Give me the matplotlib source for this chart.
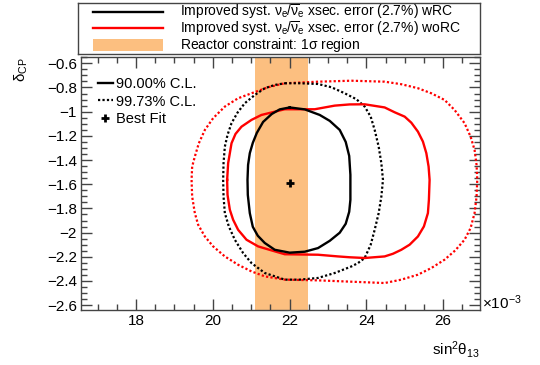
import numpy as np
import matplotlib
matplotlib.use("Agg")
from matplotlib import pyplot as plt
from matplotlib.lines import Line2D
from matplotlib.patches import Rectangle
from matplotlib.ticker import MultipleLocator, FuncFormatter

plt.rcParams['font.family'] = ['Liberation Sans', 'DejaVu Sans']
plt.rcParams['mathtext.fontset'] = 'custom'
plt.rcParams['mathtext.rm'] = 'Liberation Sans'
plt.rcParams['mathtext.it'] = 'Liberation Sans'
plt.rcParams['mathtext.sf'] = 'Liberation Sans'
plt.rcParams['mathtext.bf'] = 'Liberation Sans:bold'

# Контуры: x = sin^2(theta13) [x1e-3], y = delta_CP
wrc90_x = [22.005, 22.395, 22.785, 23.046, 23.306, 23.462, 23.553, 23.584, 23.584, 23.553,
           23.462, 23.306, 23.046, 22.741, 22.395, 22.005, 21.615, 21.355, 21.173, 21.043,
           20.965, 20.913, 20.905, 20.920, 20.965, 21.043, 21.147, 21.311, 21.537, 21.745,
           22.005]
wrc90_y = [-0.965, -0.981, -1.027, -1.076, -1.151, -1.250, -1.366, -1.522, -1.729, -1.828,
           -1.927, -2.001, -2.068, -2.128, -2.158, -2.166, -2.142, -2.086, -2.026, -1.952,
           -1.839, -1.688, -1.564, -1.440, -1.343, -1.258, -1.176, -1.085, -1.019, -0.981,
           -0.965]

worc90_x = [20.375, 20.401, 20.489, 20.593, 20.749, 21.009, 21.269, 21.875, 22.655, 22.915,
            23.176, 23.566, 23.956, 24.476, 24.736, 24.997, 25.170, 25.342, 25.472, 25.561,
            25.620, 25.646, 25.628, 25.602, 25.498, 25.342, 25.126, 24.910, 24.692, 24.476,
            23.956, 23.566, 23.262, 22.741, 21.875, 21.529, 21.181, 20.879, 20.661, 20.531,
            20.445, 20.385, 20.375]
worc90_y = [-1.564, -1.426, -1.261, -1.184, -1.124, -1.068, -1.027, -0.980, -0.980, -0.965,
            -0.950, -0.940, -0.939, -0.965, -1.005, -1.041, -1.091, -1.165, -1.247, -1.343,
            -1.454, -1.564, -1.729, -1.839, -1.949, -2.032, -2.100, -2.142, -2.175, -2.197,
            -2.210, -2.204, -2.197, -2.183, -2.179, -2.147, -2.114, -2.059, -1.977, -1.894,
            -1.811, -1.688, -1.564]

wrc99_x = [21.875, 22.265, 22.741, 23.090, 23.436, 23.740, 23.956, 24.112, 24.216, 24.320,
           24.390, 24.432, 24.390, 24.320, 24.216, 24.112, 23.956, 23.782, 23.610, 23.176,
           22.741, 22.265, 21.875, 21.355, 21.009, 20.791, 20.575, 20.419, 20.315, 20.281,
           20.271, 20.281, 20.315, 20.385, 20.489, 20.645, 20.835, 21.095, 21.355, 21.615,
           21.875]
wrc99_y = [-0.765, -0.765, -0.771, -0.798, -0.848, -0.897, -0.958, -1.041, -1.151, -1.289,
           -1.426, -1.564, -1.702, -1.839, -1.977, -2.101, -2.210, -2.252, -2.280, -2.334,
           -2.375, -2.389, -2.389, -2.334, -2.252, -2.169, -2.059, -1.949, -1.839, -1.702,
           -1.564, -1.426, -1.289, -1.192, -1.095, -1.008, -0.930, -0.862, -0.806, -0.779,
           -0.765]

worc99_x = [21.875, 22.741, 23.610, 24.476, 24.910, 25.342, 25.691, 26.036, 26.297, 26.556,
            26.713, 26.817, 26.869, 26.887, 26.869, 26.817, 26.713, 26.556, 26.315, 26.036,
            25.691, 25.342, 24.910, 24.476, 23.610, 22.741, 21.875, 21.355, 21.009, 20.661,
            20.315, 20.010, 19.795, 19.620, 19.534, 19.464, 19.449, 19.464, 19.534, 19.638,
            19.795, 20.010, 20.315, 20.661, 21.009, 21.441, 21.875]
worc99_y = [-0.765, -0.752, -0.744, -0.752, -0.773, -0.806, -0.848, -0.903, -0.986, -1.095,
            -1.206, -1.316, -1.440, -1.564, -1.702, -1.839, -1.963, -2.059, -2.147, -2.224,
            -2.293, -2.348, -2.389, -2.417, -2.406, -2.395, -2.389, -2.362, -2.321, -2.266,
            -2.197, -2.114, -2.032, -1.935, -1.839, -1.702, -1.564, -1.454, -1.371, -1.261,
            -1.151, -1.054, -0.958, -0.889, -0.848, -0.798, -0.765]

best_fit = (22.01, -1.59)
reactor_band = (21.10, 22.47)

fig = plt.figure(figsize=(5.4, 3.65), dpi=100)
ax = fig.add_axes([0.15, 0.1507, 0.739, 0.6931])

dots = (0, (1, 1))
ax.plot(worc99_x, worc99_y, color='#ff0000', lw=1.6, ls=dots)
ax.plot(wrc99_x, wrc99_y, color='black', lw=1.6, ls=dots)
ax.plot(worc90_x, worc90_y, color='#ff0000', lw=1.7, solid_joinstyle='round')
ax.plot(wrc90_x, wrc90_y, color='black', lw=1.7, solid_joinstyle='round')
ax.axvspan(reactor_band[0], reactor_band[1], color='#fb8002', alpha=0.5, lw=0)
ax.plot([best_fit[0]], [best_fit[1]], marker='+', color='black', ms=6, mew=2, ls='none')

ax.set_xlim(16.57, 26.96)
ax.set_ylim(-2.64, -0.548)
ax.xaxis.set_major_locator(MultipleLocator(2))
ax.xaxis.set_minor_locator(MultipleLocator(0.5))
ax.yaxis.set_major_locator(MultipleLocator(0.2))
ax.yaxis.set_minor_locator(MultipleLocator(0.05))
fmt = FuncFormatter(lambda v, p: f"{v:g}".replace('-', '\u2212'))
ax.xaxis.set_major_formatter(fmt)
ax.yaxis.set_major_formatter(fmt)
ax.tick_params(which='both', direction='in', top=True, right=True, color='#444444', width=1)
ax.tick_params(which='major', length=8, labelsize=11, pad=3)
ax.tick_params(which='minor', length=4)
for s in ax.spines.values():
    s.set_color('#444444')
    s.set_linewidth(1)

ax.set_xlabel(r'sin$^{2}\theta_{13}$', loc='right', fontsize=11, labelpad=8)
ax.set_ylabel(r'$\delta_{CP}$', loc='top', fontsize=11, labelpad=12)
ax.text(1.004, 0.03, r'$\times10^{-3}$', transform=ax.transAxes, ha='left', va='center', fontsize=11)

handles = [Line2D([], [], color='black', lw=1.7),
           Line2D([], [], color='black', lw=1.6, ls=dots),
           Line2D([], [], color='black', marker='+', ms=6, mew=2, ls='none')]
ax.legend(handles, ['90.00% C.L.', '99.73% C.L.', 'Best Fit'], loc='upper left',
          bbox_to_anchor=(0.0175, 0.96), frameon=False, fontsize=10.5, handlelength=1.0,
          handletextpad=0.25, labelspacing=0.22, borderaxespad=0.2, borderpad=0.5)

# верхняя легенда
leg = fig.add_axes([78 / 540, 1 - 54 / 365, 402 / 540, 50.7 / 365])
leg.set_xlim(0, 1)
leg.set_ylim(0, 1)
leg.set_xticks([])
leg.set_yticks([])
for s in leg.spines.values():
    s.set_color('#444444')
    s.set_linewidth(1)
rows = [0.834, 0.507, 0.178]
labels = [r'Improved syst. $\nu_e/\overline{\nu}_e$ xsec. error (2.7%) wRC',
          r'Improved syst. $\nu_e/\overline{\nu}_e$ xsec. error (2.7%) woRC',
          r'Reactor constraint: 1$\sigma$ region']
leg.plot([0.037, 0.211], [rows[0]] * 2, color='black', lw=1.7)
leg.plot([0.037, 0.211], [rows[1]] * 2, color='#ff0000', lw=1.7)
leg.add_patch(Rectangle((0.037, rows[2] - 0.12), 0.174, 0.24, facecolor='#fb8002', alpha=0.5, lw=0))
for r, t in zip(rows, labels):
    leg.text(0.254, r, t, ha='left', va='center', fontsize=10)

fig.savefig('out.png', dpi=100)
